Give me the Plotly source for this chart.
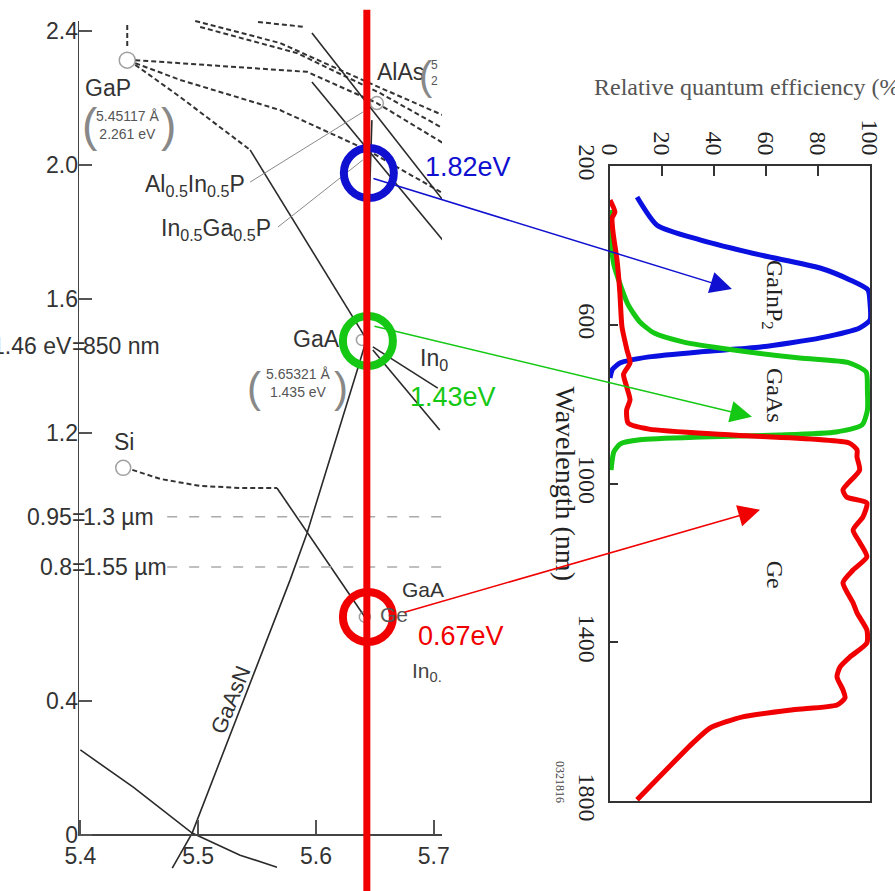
import plotly.graph_objects as go

SANS = "Liberation Sans, Arial, sans-serif"
SERIF = "Liberation Serif, Times New Roman, serif"

# ================= LEFT PANEL: band gap (eV) vs lattice constant (Å) =================
X_RANGE = [5.398, 5.707]
Y_RANGE = [-0.167, 2.4925]
X_TICKS = [5.4, 5.5, 5.6, 5.7]
X_TICK_TEXT = ["5.4", "5.5", "5.6", "5.7"]
Y_TICKS = [0, 0.4, 1.2, 1.6, 2.0, 2.4]
Y_TICK_TEXT = ["0", "0.4", "1.2", "1.6", "2.0", "2.4"]
Y_AXIS_TOP = 2.43

# dashed (indirect-gap) alloy lines
D1_X = [5.4398, 5.4398]; D1_Y = [2.418, 2.349]
D2_X = [5.5508, 5.5907]; D2_Y = [2.427, 2.412]
D3_X = [5.4975, 5.5695, 5.6432, 5.7076]; D3_Y = [2.430, 2.364, 2.248, 2.149]
D4_X = [5.5017, 5.5839, 5.6542, 5.7076]; D4_Y = [2.412, 2.334, 2.215, 2.110]
D5_X = [5.4466, 5.5924, 5.6517, 5.7076]; D5_Y = [2.313, 2.278, 2.185, 2.066]
D7_X = [5.4466, 5.4847, 5.5695, 5.6432, 5.7076]; D7_Y = [2.304, 2.254, 2.164, 2.045, 1.916]
D8_X = [5.4466, 5.4847, 5.5441]; D8_Y = [2.299, 2.203, 2.045]
SI_X = [5.4441, 5.4678, 5.5017, 5.5356, 5.5669]; SI_Y = [1.090, 1.063, 1.042, 1.036, 1.036]

# solid (direct-gap) alloy lines
S1_X = [5.5441, 5.6432]; S1_Y = [2.045, 1.478]
S2_X = [5.5966, 5.7076]; S2_Y = [2.394, 1.896]
S3_X = [5.5966, 5.7076]; S3_Y = [2.248, 1.776]
S4_X = [5.6483, 5.7034]; S4_Y = [1.457, 1.334]
S5_X = [5.6483, 5.7051]; S5_Y = [1.448, 1.209]
S6_X = [5.6415, 5.6475]; S6_Y = [1.478, 2.134]
GAASN_X = [5.6415, 5.6356, 5.5924, 5.5780, 5.4949, 5.4780]
GAASN_Y = [1.463, 1.394, 0.901, 0.761, 0.006, -0.099]
SIGE_X = [5.5669, 5.6415]; SIGE_Y = [1.036, 0.651]
LOW_X = [5.4, 5.4449, 5.4949, 5.5356, 5.5669]; LOW_Y = [0.254, 0.143, 0.006, -0.060, -0.096]

# leader lines for ternary labels
L1_X = [5.5441, 5.6398]; L1_Y = [1.949, 2.158]
L2_X = [5.5678, 5.6398]; L2_Y = [1.815, 2.015]

# wavelength-equivalent energies
EQUIV_E = [1.46, 0.95, 0.8]
EQUIV_LEFT = ["1.46 eV", "0.95", "0.8"]
EQUIV_RIGHT = ["850 nm", "1.3 µm", "1.55 µm"]
EQUIV_LINE_E = [0.95, 0.8]
EQUIV_LINE_X = [5.4737, 5.7076]

# binaries (small open circles)
BIN_A = [5.4398, 5.6517, 5.6390, 5.4364, 5.6415]
BIN_EG = [2.313, 2.185, 1.478, 1.096, 0.651]
BIN_SIZE = [16, 13, 11, 15, 11]

# highlighted junctions
HL_A = [5.6449, 5.6441, 5.6441]
HL_EG = [1.976, 1.475, 0.651]
HL_COLORS = ["#1010d0", "#14c814", "#f00000"]
HL_TEXT = ["1.82eV", "1.43eV", "0.67eV"]
HL_TEXT_A = [5.6907, 5.6780, 5.6847]
HL_TEXT_EG = [1.993, 1.307, 0.594]
LATTICE_MATCH = 5.6432

# ================= RIGHT PANEL: relative quantum efficiency =================
QE_TICKS = [0, 20, 40, 60, 80, 100]
WL_TICKS = [200, 600, 1000, 1400, 1800]

GAINP_WL = [278, 349, 386, 424, 457, 487, 512, 545, 588, 608, 633, 656, 668, 681, 696, 712, 734]
GAINP_QE = [10.4, 18.1, 34.6, 57.7, 80.8, 92.3, 99.2, 100, 100, 96, 81, 58, 35, 15, 4, 1, 0]

GAAS_WL = [311, 386, 449, 500, 550, 593, 621, 643, 663, 684, 696, 719, 764, 815, 852,
           870, 878, 883, 890, 900, 920, 966]
GAAS_QE = [0.4, 0.4, 1.5, 4, 7, 11.5, 17, 28, 47, 73, 92, 98.5, 99, 99, 97,
           87, 65, 35, 11.5, 4, 1.5, 0.4]

GE_WL = [286, 316, 331, 369, 437, 520, 605, 663, 696, 725, 756, 789, 815, 848, 863, 878,
         898, 915, 933, 966, 1016, 1034, 1049, 1084, 1117, 1150, 1185, 1218, 1250, 1301,
         1326, 1369, 1402, 1437, 1462, 1487, 1520, 1540, 1558, 1570, 1588, 1616, 1653, 1797]
GE_QE = [0, 1.9, 0.8, 1.2, 2.7, 3.8, 4.6, 6.5, 7.7, 5.2, 6.4, 7.7, 6.4, 7, 15, 47,
         92, 95, 95, 96, 89.6, 91, 98.8, 97.3, 93.5, 96.2, 98.8, 93.5, 89.6, 93.5,
         95, 98.8, 98.8, 92.3, 88.5, 87.3, 89.6, 90.4, 87.3, 70.4, 51, 38.5, 32, 10.4]

CELL_NAMES = ["GaInP<sub>2</sub>", "GaAs", "Ge"]
CELL_NAME_QE = [62.7, 63.5, 63.5]
CELL_NAME_WL = [525, 777, 1230]
ARROW_QE = [46.9, 54.6, 57.7]
ARROW_WL = [510, 832, 1066]

fig = go.Figure()

def line(x, y, dash=None, color="#2a2a2a", width=1.6):
    fig.add_trace(go.Scatter(x=x, y=y, mode="lines", xaxis="x", yaxis="y",
                             line=dict(color=color, width=width, dash=dash),
                             hoverinfo="skip", showlegend=False))

for xs, ys in [(D1_X, D1_Y), (D2_X, D2_Y), (D3_X, D3_Y), (D4_X, D4_Y), (D5_X, D5_Y),
               (D7_X, D7_Y), (D8_X, D8_Y), (SI_X, SI_Y)]:
    line(xs, ys, dash="5px,3px", color="#333", width=2)
for xs, ys in [(S1_X, S1_Y), (S2_X, S2_Y), (S3_X, S3_Y), (S4_X, S4_Y), (S5_X, S5_Y),
               (S6_X, S6_Y), (GAASN_X, GAASN_Y), (SIGE_X, SIGE_Y), (LOW_X, LOW_Y)]:
    line(xs, ys)
for xs, ys in [(L1_X, L1_Y), (L2_X, L2_Y)]:
    line(xs, ys, color="#8a8a8a", width=1)
for e in EQUIV_LINE_E:
    line(EQUIV_LINE_X, [e, e], dash="10px,12px", color="#aaaaaa", width=1.5)

fig.add_trace(go.Scatter(x=BIN_A, y=BIN_EG, mode="markers", xaxis="x", yaxis="y",
                         marker=dict(symbol="circle-open", size=BIN_SIZE, color="#777",
                                     line=dict(width=1.5)),
                         hoverinfo="skip", showlegend=False))
fig.add_trace(go.Scatter(x=HL_A, y=HL_EG, mode="markers", xaxis="x", yaxis="y",
                         marker=dict(symbol="circle-open", size=50, color=HL_COLORS,
                                     line=dict(width=8)),
                         hoverinfo="skip", showlegend=False))

# right panel curves
for wl, qe, col in [(GAINP_WL, GAINP_QE, "#0a10e0"), (GAAS_WL, GAAS_QE, "#14c814"),
                    (GE_WL, GE_QE, "#f00000")]:
    fig.add_trace(go.Scatter(x=qe, y=wl, mode="lines", xaxis="x2", yaxis="y2",
                             line=dict(color=col, width=5, shape="spline", smoothing=0.6),
                             hoverinfo="skip", showlegend=False))

ann = []
def text(t, x, y, size=23, color="#333", xanchor="center", font=SANS, angle=0,
         xref="x", yref="y", xshift=0):
    ann.append(dict(text=t, x=x, y=y, xref=xref, yref=yref, showarrow=False,
                    xanchor=xanchor, yanchor="middle", textangle=angle, xshift=xshift,
                    font=dict(family=font, size=size, color=color)))

# left-panel labels
text("GaP", 5.4237, 2.230)
text("(", 5.4085, 2.120, size=46, color="#888")
text("5.45117 Å<br>2.261 eV", 5.4398, 2.120, size=14, color="#555")
text(")", 5.4745, 2.120, size=46, color="#888")
text("AlAs", 5.6500, 2.278, xanchor="left")
text("(", 5.6930, 2.265, size=40, color="#888")
text("5<br>2", 5.7010, 2.275, size=12, color="#555")
text("Al<sub>0.5</sub>In<sub>0.5</sub>P", 5.5415, 1.940, xanchor="right")
text("In<sub>0.5</sub>Ga<sub>0.5</sub>P", 5.5636, 1.806, xanchor="right")
text("GaA", 5.6220, 1.481, xanchor="right")
text("(", 5.5475, 1.335, size=42, color="#888")
text("5.65321 Å<br>1.435 eV", 5.5847, 1.349, size=14, color="#555")
text(")", 5.6215, 1.335, size=42, color="#888")
text("In<sub>0</sub>", 5.6864, 1.418, xanchor="left")
text("Si", 5.4373, 1.173)
text("GaA", 5.6712, 0.734, size=21, xanchor="left")
text("Ge", 5.6525, 0.657, size=21, xanchor="left", color="#555")
text("In<sub>0.</sub>", 5.6797, 0.487, size=21, xanchor="left", color="#444")
text("GaAsN", 5.5271, 0.403, size=22, angle=-68)
for e, lt, rt in zip(EQUIV_E, EQUIV_LEFT, EQUIV_RIGHT):
    text(lt, X_RANGE[0], e, xanchor="right", xshift=-4)
    text("=", X_RANGE[0], e)
    text(rt, X_RANGE[0], e, xanchor="left", xshift=3)
for t, x, y, c in zip(HL_TEXT, HL_TEXT_A, HL_TEXT_EG, HL_COLORS):
    text(t, x, y, size=27, color=c, xanchor="left")

# right-panel labels
for t, q, w in zip(CELL_NAMES, CELL_NAME_QE, CELL_NAME_WL):
    text(t, q, w, size=24, color="#222", font=SERIF, angle=90, xref="x2", yref="y2")
text("Relative quantum efficiency (%)", 592 / 895, 0.9024, size=24, color="#555",
     font=SERIF, xanchor="left", xref="paper", yref="paper")
text("Wavelength (nm)", 565 / 895, 1000, size=28, color="#222", font=SERIF, angle=90,
     xref="paper", yref="y2")
text("0321816", 560 / 895, 1752, size=12, color="#444", font=SERIF, angle=90,
     xref="paper", yref="y2")

# arrows from junction circles to the subcell curves
ARROW_TAIL = [(-360, -111), (-379, -91), (-357, 103)]
for q, w, (ax, ay), c in zip(ARROW_QE, ARROW_WL, ARROW_TAIL, HL_COLORS):
    ann.append(dict(x=q, y=w, xref="x2", yref="y2", ax=ax, ay=ay, axref="pixel",
                    ayref="pixel", text="", showarrow=True, arrowhead=2, arrowsize=2.9,
                    arrowwidth=1.5, arrowcolor=c, standoff=0, startstandoff=0))

shapes = [
    dict(type="line", xref="x", yref="y", x0=X_RANGE[0], x1=X_RANGE[0], y0=0,
         y1=Y_AXIS_TOP, line=dict(color="#444", width=2)),
    dict(type="line", xref="x", yref="paper", x0=LATTICE_MATCH, x1=LATTICE_MATCH,
         y0=0, y1=0.989, line=dict(color="#f00000", width=7), layer="above"),
]

fig.update_layout(
    width=895, height=891, autosize=False,
    margin=dict(l=0, r=0, t=0, b=0, pad=0, autoexpand=False),
    paper_bgcolor="white", plot_bgcolor="rgba(0,0,0,0)",
    annotations=ann, shapes=shapes,
    xaxis=dict(domain=[78 / 895, 442 / 895], range=X_RANGE, anchor="free",
               position=(891 - 835) / 891, showline=True, linecolor="#444", linewidth=2,
               ticks="inside", ticklen=14, tickwidth=1.5, tickcolor="#555",
               tickvals=X_TICKS, ticktext=X_TICK_TEXT, showgrid=False, zeroline=False,
               automargin=False,
               tickfont=dict(family=SANS, size=23, color="#333")),
    yaxis=dict(domain=[0, 1], range=Y_RANGE, anchor="free", position=78 / 895,
               showline=False, ticks="inside", ticklen=13, tickwidth=1.5,
               tickcolor="#555", tickvals=Y_TICKS, ticktext=Y_TICK_TEXT,
               showgrid=False, zeroline=False, automargin=False,
               tickfont=dict(family=SANS, size=23, color="#333")),
    xaxis2=dict(domain=[610 / 895, 870 / 895], range=[0, 100], anchor="y2", side="top",
                showline=True, mirror=True, linecolor="#333", linewidth=2,
                ticks="inside", ticklen=10, tickwidth=1.5, tickcolor="#333",
                tickvals=QE_TICKS, tickangle=90, showgrid=False, zeroline=False,
                automargin=False,
                tickfont=dict(family=SERIF, size=24, color="#222")),
    yaxis2=dict(domain=[(891 - 801) / 891, (891 - 166) / 891], range=[1800, 200],
                anchor="x2", showline=True, mirror=True, linecolor="#333", linewidth=2,
                ticks="inside", ticklen=8, tickwidth=1.5, tickcolor="#333",
                tickvals=WL_TICKS, tickangle=90, showgrid=False, zeroline=False,
                automargin=False,
                tickfont=dict(family=SERIF, size=24, color="#222")),
)

fig.write_html("out.html", config={"displayModeBar": False},
               post_script="document.body.style.margin='0';")
